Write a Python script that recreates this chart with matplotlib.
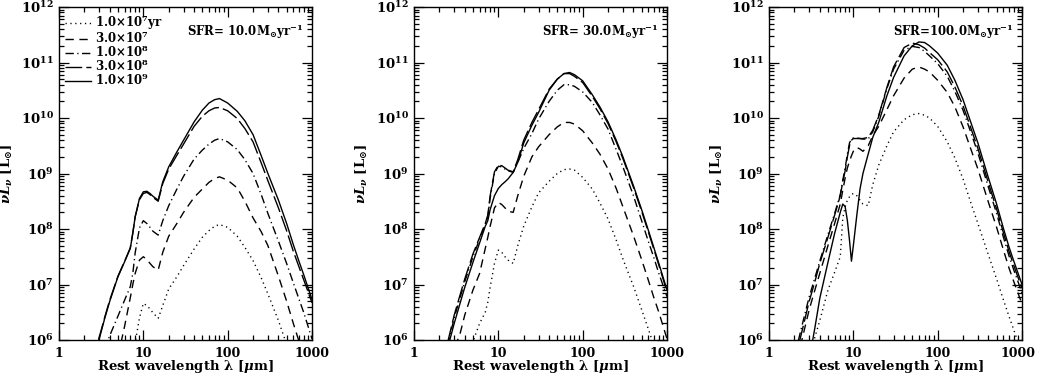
import numpy as np
import matplotlib
matplotlib.use("Agg")
from matplotlib import pyplot as plt
from matplotlib.ticker import FixedLocator, NullFormatter, LogFormatterMathtext
from matplotlib.transforms import ScaledTranslation

plt.rcParams["font.family"] = "DejaVu Serif"
plt.rcParams["font.weight"] = "bold"
plt.rcParams["axes.labelweight"] = "bold"
plt.rcParams["mathtext.fontset"] = "custom"
plt.rcParams["mathtext.rm"] = "DejaVu Serif:bold"
plt.rcParams["mathtext.it"] = "DejaVu Serif:italic:bold"
plt.rcParams["mathtext.bf"] = "DejaVu Serif:bold"

# Rest wavelength grids (micron)
wl_p1 = [2.5, 3, 3.5, 4, 5, 6, 7, 7.5, 8, 9, 10, 11, 12, 13, 15, 17, 20, 25, 30, 40,
         50, 60, 70, 80, 100, 130, 160, 200, 250, 300, 400, 500, 600, 700, 800, 1000]
wl_p2 = wl_p1
wl_p3 = [2, 2.5, 3, 3.5, 4, 5, 6, 7, 7.5, 8, 8.5, 9, 9.5, 10, 11, 12, 13, 15, 17, 20,
         25, 30, 40, 50, 60, 70, 80, 100, 130, 160, 200, 250, 300, 400, 500, 600, 700, 800, 1000]

# log10(nu L_nu / Lsun), one list per age, per SFR panel
# SFR = 10
p1_1e7 = [4.0, 4.3, 4.6, 4.8, 5.1, 5.4, 5.7, 5.8, 5.95, 6.4, 6.66, 6.62, 6.56, 6.49, 6.39, 6.62, 6.92, 7.14, 7.34, 7.64,
          7.85, 7.97, 8.05, 8.08, 8.03, 7.87, 7.67, 7.43, 7.12, 6.83, 6.35, 5.92, 5.55, 5.25, 4.95, 4.5]
p1_3e7 = [4.6, 4.9, 5.2, 5.45, 5.7, 6.25, 6.76, 7.0, 7.2, 7.44, 7.5, 7.45, 7.38, 7.32, 7.26, 7.58, 7.87, 8.1, 8.3, 8.57,
          8.72, 8.84, 8.91, 8.94, 8.88, 8.74, 8.5, 8.2, 7.95, 7.7, 7.15, 6.7, 6.3, 5.98, 5.7, 5.25]
p1_1e8 = [5.1, 5.5, 5.85, 6.08, 6.43, 6.72, 6.96, 7.2, 7.57, 8.02, 8.15, 8.10, 8.03, 7.96, 7.89, 8.15, 8.42, 8.72, 8.95, 9.26,
          9.42, 9.53, 9.60, 9.63, 9.57, 9.43, 9.25, 9.00, 8.62, 8.28, 7.78, 7.38, 7.03, 6.74, 6.49, 6.02]
p1_3e8 = [5.65, 6.05, 6.42, 6.72, 7.15, 7.42, 7.66, 7.93, 8.22, 8.53, 8.64, 8.66, 8.62, 8.57, 8.50, 8.82, 9.08, 9.33, 9.53, 9.85,
          10.03, 10.13, 10.18, 10.19, 10.13, 9.99, 9.81, 9.57, 9.19, 8.87, 8.38, 7.97, 7.60, 7.32, 7.08, 6.67]
p1_1e9 = [5.6, 6.02, 6.4, 6.7, 7.14, 7.41, 7.65, 7.92, 8.22, 8.55, 8.67, 8.68, 8.64, 8.59, 8.52, 8.85, 9.12, 9.39, 9.60, 9.93,
          10.14, 10.27, 10.33, 10.35, 10.27, 10.12, 9.95, 9.70, 9.32, 9.00, 8.52, 8.10, 7.72, 7.42, 7.17, 6.73]
# SFR = 30
p2_1e7 = [4.5, 4.9, 5.2, 5.5, 5.97, 6.3, 6.5, 6.68, 6.95, 7.38, 7.62, 7.58, 7.5, 7.44, 7.38, 7.7, 8.05, 8.4, 8.65, 8.86,
          9.0, 9.07, 9.08, 9.06, 8.93, 8.72, 8.47, 8.18, 7.8, 7.46, 6.97, 6.55, 6.2, 5.9, 5.62, 5.2]
p2_3e7 = [5.4, 5.85, 6.1, 6.45, 6.9, 7.2, 7.65, 7.85, 8.05, 8.38, 8.48, 8.44, 8.38, 8.32, 8.3, 8.6, 8.95, 9.3, 9.48, 9.7,
          9.84, 9.92, 9.92, 9.89, 9.77, 9.55, 9.35, 9.08, 8.73, 8.4, 7.88, 7.45, 7.08, 6.76, 6.5, 6.02]
p2_1e8 = [5.9, 6.4, 6.75, 7.05, 7.5, 7.82, 8.08, 8.22, 8.56, 9.0, 9.13, 9.12, 9.08, 9.05, 9.02, 9.2, 9.45, 9.72, 9.98, 10.3,
          10.5, 10.6, 10.6, 10.57, 10.47, 10.28, 10.06, 9.8, 9.43, 9.12, 8.6, 8.15, 7.78, 7.48, 7.2, 6.78]
p2_3e8 = [5.95, 6.45, 6.8, 7.1, 7.55, 7.85, 8.1, 8.25, 8.6, 9.03, 9.15, 9.14, 9.1, 9.06, 9.03, 9.25, 9.6, 9.92, 10.15, 10.52,
          10.7, 10.8, 10.8, 10.75, 10.64, 10.39, 10.17, 9.9, 9.57, 9.27, 8.75, 8.32, 7.95, 7.63, 7.35, 6.87]
p2_1e9 = [5.85, 6.3, 6.65, 6.95, 7.4, 7.75, 8.05, 8.15, 8.35, 8.6, 8.73, 8.8, 8.85, 8.9, 9.02, 9.2, 9.55, 9.87, 10.1, 10.5,
          10.7, 10.8, 10.82, 10.78, 10.67, 10.42, 10.2, 9.93, 9.6, 9.3, 8.78, 8.35, 7.98, 7.66, 7.38, 6.9]
# SFR = 100
p3_1e7 = [4.6, 5.1, 5.6, 6.05, 6.35, 6.9, 7.22, 7.5, 8.2, 8.4, 8.52, 8.58, 8.62, 8.64, 8.6, 8.52, 8.45, 8.42, 8.8, 9.15,
          9.5, 9.75, 9.97, 10.06, 10.08, 10.05, 10.0, 9.85, 9.57, 9.28, 8.9, 8.45, 8.1, 7.53, 7.1, 6.73, 6.43, 6.18, 5.75]
p3_3e7 = [5.4, 6.05, 6.55, 6.9, 7.2, 7.7, 8.1, 8.45, 8.7, 8.92, 9.1, 9.22, 9.32, 9.4, 9.47, 9.44, 9.4, 9.5, 9.68, 9.85,
          10.15, 10.4, 10.72, 10.88, 10.92, 10.88, 10.83, 10.68, 10.46, 10.2, 9.84, 9.42, 9.08, 8.48, 8.03, 7.63, 7.3, 7.05, 6.65]
p3_1e8 = [5.7, 6.3, 6.78, 7.12, 7.42, 7.9, 8.28, 8.62, 8.88, 9.1, 9.35, 9.55, 9.62, 9.64, 9.64, 9.63, 9.62, 9.62, 9.75, 10.03,
          10.53, 10.88, 11.22, 11.29, 11.27, 11.2, 11.12, 10.98, 10.75, 10.48, 10.14, 9.72, 9.37, 8.75, 8.28, 7.86, 7.52, 7.26, 6.85]
p3_3e8 = [5.6, 6.2, 6.7, 7.05, 7.38, 7.85, 8.25, 8.6, 8.85, 9.05, 9.3, 9.5, 9.6, 9.63, 9.63, 9.63, 9.63, 9.65, 9.78, 10.05,
          10.55, 10.92, 11.27, 11.35, 11.32, 11.26, 11.18, 11.05, 10.83, 10.56, 10.22, 9.8, 9.45, 8.83, 8.36, 7.94, 7.6, 7.34, 6.93]
p3_1e9 = [4.5, 5.1, 5.65, 6.22, 6.75, 7.4, 7.92, 8.3, 8.45, 8.4, 8.15, 7.8, 7.42, 7.7, 8.25, 8.72, 9.0, 9.35, 9.65, 9.92,
          10.4, 10.73, 11.12, 11.3, 11.37, 11.36, 11.3, 11.17, 10.95, 10.68, 10.33, 9.9, 9.55, 8.92, 8.45, 8.02, 7.68, 7.42, 7.0]

age_labels = [r"1.0$\times$$\mathdefault{10^{7}}$yr", r"3.0$\times$$\mathdefault{10^{7}}$",
              r"1.0$\times$$\mathdefault{10^{8}}$", r"3.0$\times$$\mathdefault{10^{8}}$",
              r"1.0$\times$$\mathdefault{10^{9}}$"]
sfr_labels = [r"SFR= 10.0$\mathdefault{M_{\odot}yr^{-1}}$",
              r"SFR= 30.0$\mathdefault{M_{\odot}yr^{-1}}$",
              r"SFR=100.0$\mathdefault{M_{\odot}yr^{-1}}$"]
xtick_vals = [1, 10, 100, 1000]
xtick_labels = ["1", "10", "100", "1000"]
ytick_vals = [1e6, 1e7, 1e8, 1e9, 1e10, 1e11, 1e12]

# minor ticks only inside the plotted range
x_minor = [m * 10.0 ** e for e in range(0, 3) for m in range(2, 10)]
y_minor = [m * 10.0 ** e for e in range(6, 12) for m in range(2, 10)]

styles = [(0, (0.9, 2.6)), (0, (6, 4)), (0, (6, 2.5, 0.9, 2.5)), (0, (12, 3)), "-"]

panels = [
    (wl_p1, [p1_1e7, p1_3e7, p1_1e8, p1_3e8, p1_1e9]),
    (wl_p2, [p2_1e7, p2_3e7, p2_1e8, p2_3e8, p2_1e9]),
    (wl_p3, [p3_1e7, p3_3e7, p3_1e8, p3_3e8, p3_1e9]),
]
lefts = [59, 414, 769]

fig = plt.figure(figsize=(10.38, 3.8), dpi=100)

for k, (wl, curves) in enumerate(panels):
    ax = fig.add_axes([lefts[k] / 1038, 40 / 380, 253 / 1038, 333 / 380])
    for logl, ls, lab in zip(curves, styles, age_labels):
        ax.plot(wl, 10 ** np.array(logl), color="black", lw=1.0, ls=ls, label=lab)
    ax.set_xscale("log")
    ax.set_yscale("log")
    ax.set_xlim(1, 1000)
    ax.set_ylim(1e6, 1e12)
    ax.set_xticks(xtick_vals, labels=xtick_labels)
    ax.xaxis.set_minor_locator(FixedLocator(x_minor))
    ax.xaxis.set_minor_formatter(NullFormatter())
    ax.yaxis.set_major_locator(FixedLocator(ytick_vals))
    ax.yaxis.set_major_formatter(LogFormatterMathtext())
    ax.yaxis.set_minor_locator(FixedLocator(y_minor))
    ax.yaxis.set_minor_formatter(NullFormatter())
    ax.tick_params(which="both", direction="in", top=True, right=True, width=0.9)
    ax.tick_params(which="major", length=7)
    ax.tick_params(which="minor", length=3.5)
    ax.tick_params(axis="y", labelsize=9.5, pad=4)
    ax.tick_params(axis="x", labelsize=9, pad=5)
    for s in ax.spines.values():
        s.set_linewidth(1.0)
    ax.set_xlabel(r"Rest wavelength λ [$\mu$m]", fontsize=9.5, labelpad=-1.5)
    ax.set_ylabel(r"$\nu L_{\nu}$ [$\mathdefault{L_{\odot}}$]", fontsize=9.5, labelpad=4)
    ax.text(0.965, 0.925, sfr_labels[k], transform=ax.transAxes, ha="right", va="center", fontsize=8.5)
    if k == 2:
        # keep the last tick label inside the figure
        last = ax.get_xticklabels()[-1]
        last.set_transform(last.get_transform() + ScaledTranslation(-0.04, 0, fig.dpi_scale_trans))
    if k == 0:
        ax.legend(loc="upper left", bbox_to_anchor=(0, 1), frameon=False, fontsize=8.5,
                  handlelength=2.2, handletextpad=0.35, labelspacing=-0.15,
                  borderaxespad=0.3, borderpad=0.2)

fig.savefig("out.png", dpi=100)
